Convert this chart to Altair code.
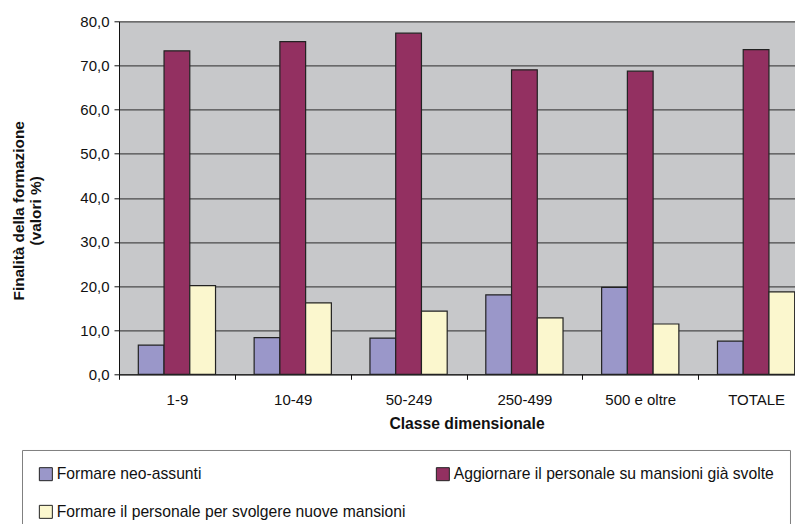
import altair as alt
import pandas as pd

classi = ["1-9", "10-49", "50-249", "250-499", "500 e oltre", "TOTALE"]
serie = [
    "Formare neo-assunti",
    "Aggiornare il personale su mansioni già svolte",
    "Formare il personale per svolgere nuove mansioni",
]
neo_assunti = [6.6, 8.3, 8.2, 18.0, 19.7, 7.5]
aggiornare = [73.3, 75.4, 77.3, 69.0, 68.7, 73.6]
nuove_mansioni = [20.1, 16.2, 14.3, 12.8, 11.4, 18.7]
colori = ["#9A97C9", "#933061", "#FBF7CE"]
y_ticks = [0, 10, 20, 30, 40, 50, 60, 70, 80]

rows = []
for valori, s in zip([neo_assunti, aggiornare, nuove_mansioni], serie):
    for c, v in zip(classi, valori):
        rows.append({"classe": c, "serie": s, "valore": v})
df = pd.DataFrame(rows)

FONT = "Liberation Sans"

chart = (
    alt.Chart(df)
    .mark_bar(stroke="#222222", strokeWidth=1.2)
    .encode(
        x=alt.X(
            "classe:N",
            sort=classi,
            scale=alt.Scale(paddingInner=0, paddingOuter=0),
            axis=alt.Axis(
                title="Classe dimensionale",
                labelAngle=0,
                tickBand="extent",
                tickSize=5,
                labelPadding=13,
                titlePadding=9,
                titleFontSize=15.7,
            ),
        ),
        xOffset=alt.XOffset(
            "serie:N", sort=serie, scale=alt.Scale(paddingInner=0, paddingOuter=0.75)
        ),
        y=alt.Y(
            "valore:Q",
            scale=alt.Scale(domain=[0, 80], nice=False),
            axis=alt.Axis(
                title=["Finalità della formazione", "(valori %)"],
                values=y_ticks,
                labelExpr="replace(format(datum.value, '.1f'), '.', ',')",
                tickSize=5,
                labelPadding=5,
                titlePadding=36.5,
                titleY=189,
                titleLineHeight=16.5,
                titleFontSize=15.4,
            ),
        ),
        color=alt.Color(
            "serie:N",
            sort=serie,
            scale=alt.Scale(domain=serie, range=colori),
            legend=alt.Legend(
                title=None,
                orient="none",
                direction="horizontal",
                legendX=-97,
                legendY=428.7,
                columns=2,
                columnPadding=28,
                rowPadding=20,
                padding=16,
                strokeColor="#808080",
                symbolType="square",
                symbolSize=169,
                symbolStrokeColor="#222222",
                symbolStrokeWidth=1,
                symbolOpacity=1,
                labelFontSize=15.7,
                labelFont=FONT,
                labelColor="#111111",
                labelLimit=500,
                labelOffset=3,
            ),
        ),
    )
    .properties(
        width=695,
        height=353,
        autosize=alt.AutoSizeParams(type="none"),
        padding={"left": 111, "top": 13.3, "right": -19, "bottom": 150},
    )
    .configure_view(fill="#C7C8CA", stroke=None)
    .configure_axis(
        labelFont=FONT,
        titleFont=FONT,
        labelFontSize=15,
        titleFontWeight="bold",
        labelColor="#111111",
        titleColor="#111111",
        domainColor="#111111",
        tickColor="#111111",
        domainWidth=1,
        tickWidth=1,
    )
    .configure_axisY(gridColor="#4A4A4A", gridWidth=1.2, grid=True)
    .configure_axisX(grid=False)
)

chart.save("out.html", embed_options={"renderer": "svg", "actions": False})
